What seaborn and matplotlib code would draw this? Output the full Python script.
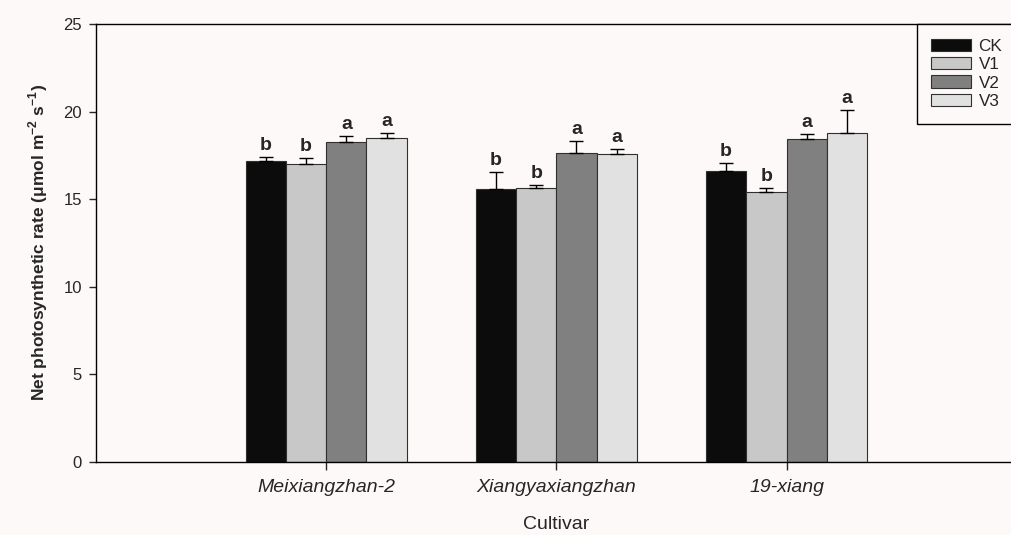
import numpy as np
import pandas as pd
import matplotlib
matplotlib.use('Agg')
import matplotlib.pyplot as plt
import seaborn as sns

# data
cultivars = ['Meixiangzhan-2', 'Xiangyaxiangzhan', '19-xiang']
treatments = ['CK', 'V1', 'V2', 'V3']

ck_mean = [17.2, 15.6, 16.6]
v1_mean = [17.0, 15.65, 15.4]
v2_mean = [18.25, 17.65, 18.45]
v3_mean = [18.5, 17.55, 18.75]

ck_err = [0.23, 0.95, 0.44]
v1_err = [0.33, 0.13, 0.25]
v2_err = [0.38, 0.68, 0.27]
v3_err = [0.28, 0.30, 1.36]

ck_sig = ['b', 'b', 'b']
v1_sig = ['b', 'b', 'b']
v2_sig = ['a', 'a', 'a']
v3_sig = ['a', 'a', 'a']

means = [ck_mean, v1_mean, v2_mean, v3_mean]
errs = [ck_err, v1_err, v2_err, v3_err]
sigs = [ck_sig, v1_sig, v2_sig, v3_sig]

bar_colors = ['#0c0c0c', '#c8c8c8', '#808080', '#e1e1e1']
bg = '#fdf9f8'

rows = []
for t, m in zip(treatments, means):
    for c, v in zip(cultivars, m):
        rows.append({'Cultivar': c, 'Treatment': t, 'Pn': v})
df = pd.DataFrame(rows)

sns.set_style('ticks')
plt.rcParams['font.family'] = ['Liberation Sans', 'DejaVu Sans']
plt.rcParams['mathtext.fontset'] = 'custom'
plt.rcParams['mathtext.rm'] = 'Liberation Sans'
plt.rcParams['mathtext.bf'] = 'Liberation Sans:bold'

fig = plt.figure(figsize=(10.12, 5.35), dpi=100, facecolor=bg)
ax = fig.add_axes([96 / 1012, (535 - 461.7) / 535, (1016.7 - 96) / 1012, (461.7 - 24) / 535])
ax.set_facecolor(bg)

sns.barplot(data=df, x='Cultivar', y='Pn', hue='Treatment', hue_order=treatments,
            order=cultivars, palette=bar_colors, errorbar=None, width=0.7,
            edgecolor='#303030', linewidth=0.8, saturation=1, ax=ax)

# upward error bars and significance letters
for cont, err, sig in zip(ax.containers, errs, sigs):
    for bar, e, s in zip(cont, err, sig):
        x = bar.get_x() + bar.get_width() / 2
        y = bar.get_height()
        ax.errorbar(x, y, yerr=[[0], [e]], fmt='none', ecolor='black',
                    elinewidth=1, capsize=4.8, capthick=1, zorder=5)
        ax.annotate(s, (x, y + e), xytext=(0, 5), textcoords='offset points',
                    ha='center', va='baseline', fontsize=14, fontweight='bold')

ax.set_xlim(-1, 3)
ax.set_ylim(0, 25)
ax.set_yticks([0, 5, 10, 15, 20, 25])

for sp in ax.spines.values():
    sp.set_visible(True)
    sp.set_color('black')
    sp.set_linewidth(1)

ax.tick_params(axis='y', direction='out', length=5, width=1, labelsize=12, pad=5)
ax.tick_params(axis='x', direction='out', length=5.5, width=1, labelsize=14, pad=7)
for lab in ax.get_xticklabels():
    lab.set_fontstyle('italic')

ax.set_xlabel('Cultivar', fontsize=14, labelpad=14)
ax.set_ylabel(r'Net photosynthetic rate (μmol m$^{\mathbf{-2}}$ s$^{\mathbf{-1}}$)',
              fontsize=12.5, fontweight='bold', labelpad=10)

handles, labels = ax.get_legend_handles_labels()
for h in handles:
    h.set_edgecolor('#303030')
    h.set_linewidth(0.8)
leg = ax.legend(handles, labels, loc='upper right', bbox_to_anchor=(1, 1),
                borderaxespad=0, frameon=True, fancybox=False, edgecolor='black',
                framealpha=1, facecolor=bg, fontsize=12.3, handlelength=2.3,
                handleheight=0.72, handletextpad=0.45, borderpad=0.85,
                labelspacing=0.2)
leg.get_frame().set_linewidth(1)

fig.savefig('out.png', dpi=100, facecolor=bg)
